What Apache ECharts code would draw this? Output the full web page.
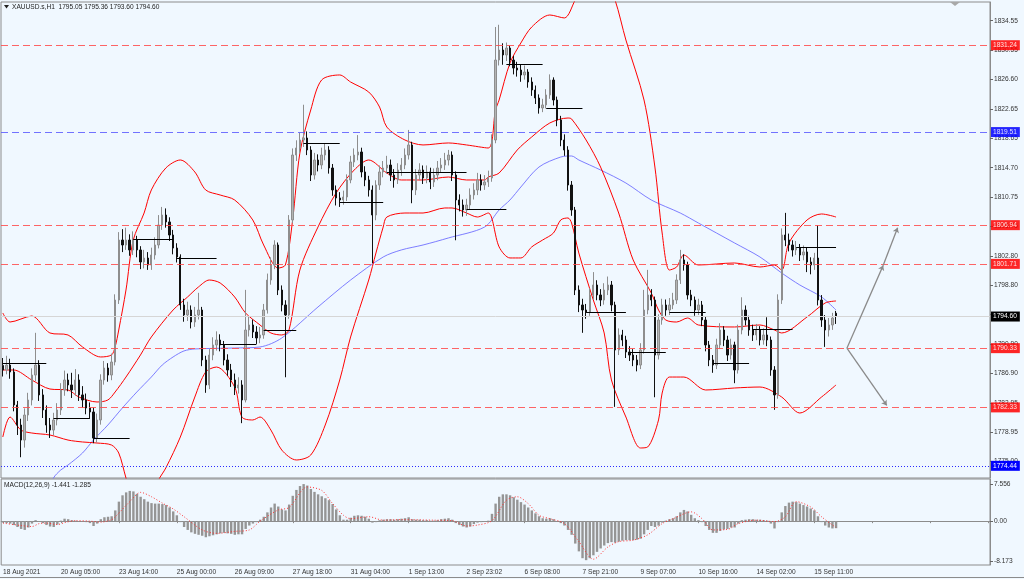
<!DOCTYPE html>
<html><head><meta charset="utf-8">
<script src="https://cdn.jsdelivr.net/npm/echarts@6/dist/echarts.min.js"></script>
<style>html,body{margin:0;padding:0;background:#f0f8ff;}#c{width:1024px;height:579px;}</style>
</head><body><div id="c"></div>
<script>
// ---------------- DATA ----------------
const TITLE = 'XAUUSD.s,H1  1795.05 1795.36 1793.60 1794.60';
const MACD_TITLE = 'MACD(12,26,9) -1.441 -1.285';
const TIME_LABELS = ['18 Aug 2021','20 Aug 05:00','23 Aug 14:00','25 Aug 00:00','26 Aug 09:00','27 Aug 18:00','31 Aug 04:00','1 Sep 13:00','2 Sep 23:02','6 Sep 08:00','7 Sep 21:00','9 Sep 07:00','10 Sep 16:00','14 Sep 02:00','15 Sep 11:00'];
const LABEL_STEP = 16;
const SLOT_COUNT = 273;
const PRICE_TICK_LABELS = ['1775.00','1778.95','1782.95','1786.90','1790.90','1794.85','1798.80','1802.80','1806.75','1810.75','1814.70','1818.65','1822.65','1826.60','1830.55','1834.55'];
const MACD_TICK_VALUES = [7.556, 0, -8.173];
const MACD_TICK_LABELS = ['7.556','0.00','-8.173'];

const OPENS = [1788.00,1787.38,1788.05,1787.11,1782.65,1779.95,1777.92,1781.30,1783.33,1786.70,
1788.05,1784.01,1781.98,1779.95,1779.27,1780.63,1781.98,1784.68,1786.03,1785.36,
1784.68,1786.03,1784.01,1783.33,1782.25,1781.71,1778.19,1780.63,1786.03,1787.65,
1786.70,1788.46,1796.83,1804.93,1804.26,1804.93,1803.59,1804.93,1803.59,1801.96,
1802.50,1801.56,1802.91,1804.26,1806.96,1808.31,1807.37,1805.61,1803.85,1802.64,
1796.16,1794.81,1795.48,1793.86,1794.81,1795.48,1788.73,1785.36,1789.40,1790.76,
1791.43,1790.76,1788.73,1787.38,1786.03,1784.95,1785.36,1783.33,1792.78,1793.46,
1792.51,1791.70,1792.11,1795.48,1799.53,1801.56,1804.26,1798.18,1796.16,1794.81,
1807.64,1816.41,1817.36,1818.44,1818.71,1817.09,1813.71,1815.74,1815.06,1816.41,
1817.09,1814.66,1811.69,1810.61,1810.34,1810.74,1813.04,1815.47,1816.41,1816.82,
1814.12,1813.04,1811.69,1808.31,1812.36,1814.12,1814.66,1815.06,1813.71,1813.04,
1814.39,1815.06,1816.41,1817.77,1811.69,1813.71,1814.39,1813.31,1814.12,1812.77,
1813.71,1814.66,1815.06,1815.74,1816.41,1813.71,1810.34,1809.66,1808.99,1809.66,
1811.01,1811.69,1813.04,1812.36,1812.77,1813.31,1818.44,1829.24,1830.59,1829.92,
1830.86,1829.24,1828.16,1827.89,1827.22,1827.62,1826.27,1825.19,1824.11,1822.76,
1823.17,1824.52,1826.54,1823.84,1821.14,1818.44,1817.09,1812.36,1808.99,1798.18,
1796.16,1795.48,1795.21,1797.51,1798.86,1797.51,1796.83,1798.18,1798.86,1796.16,
1790.08,1792.11,1791.43,1789.81,1789.40,1788.73,1788.05,1790.08,1795.48,1797.51,
1796.83,1789.40,1794.13,1796.16,1795.48,1796.16,1796.83,1799.53,1802.24,1801.56,
1797.51,1796.83,1795.48,1796.16,1794.13,1790.76,1788.73,1788.05,1790.76,1792.78,
1791.43,1789.40,1790.76,1787.38,1792.78,1795.48,1794.13,1792.78,1792.11,1792.78,
1791.43,1792.11,1791.43,1787.38,1784.01,1796.83,1805.61,1804.93,1804.26,1803.59,
1803.85,1802.91,1803.32,1801.96,1801.56,1802.50,1796.83,1794.13,1792.78,1793.46,
1795.05];
const CLOSES = [1787.38,1788.05,1787.11,1782.65,1779.95,1777.92,1781.30,1783.33,1786.70,1788.05,
1784.01,1781.98,1779.95,1779.27,1780.63,1781.98,1784.68,1786.03,1785.36,1784.68,
1786.03,1784.01,1783.33,1782.25,1781.71,1778.19,1780.63,1786.03,1787.65,1786.70,
1788.46,1796.83,1804.93,1804.26,1804.93,1803.59,1804.93,1803.59,1801.96,1802.50,
1801.56,1802.91,1804.26,1806.96,1808.31,1807.37,1805.61,1803.85,1802.64,1796.16,
1794.81,1795.48,1793.86,1794.81,1795.48,1788.73,1785.36,1789.40,1790.76,1791.43,
1790.76,1788.73,1787.38,1786.03,1784.95,1785.36,1783.33,1792.78,1793.46,1792.51,
1791.70,1792.11,1795.48,1799.53,1801.56,1804.26,1798.18,1796.16,1794.81,1807.64,
1816.41,1817.36,1818.44,1818.71,1817.09,1813.71,1815.74,1815.06,1816.41,1817.09,
1814.66,1811.69,1810.61,1810.34,1810.74,1813.04,1815.47,1816.41,1816.82,1814.12,
1813.04,1811.69,1808.31,1812.36,1814.12,1814.66,1815.06,1813.71,1813.04,1814.39,
1815.06,1816.41,1817.77,1811.69,1813.71,1814.39,1813.31,1814.12,1812.77,1813.71,
1814.66,1815.06,1815.74,1816.41,1813.71,1810.34,1809.66,1808.99,1809.66,1811.01,
1811.69,1813.04,1812.36,1812.77,1813.31,1818.44,1829.24,1830.59,1829.92,1830.86,
1829.24,1828.16,1827.89,1827.22,1827.62,1826.27,1825.19,1824.11,1822.76,1823.17,
1824.52,1826.54,1823.84,1821.14,1818.44,1817.09,1812.36,1808.99,1798.18,1796.16,
1795.48,1795.21,1797.51,1798.86,1797.51,1796.83,1798.18,1798.86,1796.16,1790.08,
1792.11,1791.43,1789.81,1789.40,1788.73,1788.05,1790.08,1795.48,1797.51,1796.83,
1789.40,1794.13,1796.16,1795.48,1796.16,1796.83,1799.53,1802.24,1801.56,1797.51,
1796.83,1795.48,1796.16,1794.13,1790.76,1788.73,1788.05,1790.76,1792.78,1791.43,
1789.40,1790.76,1787.38,1792.78,1795.48,1794.13,1792.78,1792.11,1792.78,1791.43,
1792.11,1791.43,1787.38,1784.01,1796.83,1805.61,1804.93,1804.26,1803.59,1803.85,
1802.91,1803.32,1801.96,1801.56,1802.50,1796.83,1794.13,1792.78,1793.46,1794.40,
1794.60];
const HIGHS = [1789.0,1789.3,1788.9,1787.6,1783.2,1780.8,1782.2,1784.3,1787.6,1792.4,
1788.7,1784.8,1782.6,1780.9,1781.6,1782.9,1785.6,1787.3,1786.9,1787.0,
1787.5,1786.8,1785.2,1784.2,1783.0,1782.3,1781.5,1786.8,1788.6,1788.3,
1789.6,1797.6,1806.0,1806.4,1806.6,1805.7,1806.1,1805.5,1804.1,1803.6,
1803.3,1803.9,1805.3,1808.3,1809.4,1809.2,1808.0,1806.3,1804.5,1803.0,
1797.0,1796.6,1796.1,1795.9,1797.8,1795.9,1789.3,1790.2,1791.8,1792.6,
1792.2,1791.3,1789.5,1788.2,1786.9,1786.4,1786.0,1798.2,1794.6,1794.2,
1793.3,1793.2,1796.3,1800.4,1802.6,1804.9,1804.6,1798.8,1796.8,1808.3,
1817.3,1818.4,1819.4,1823.2,1819.6,1817.6,1816.7,1816.5,1817.4,1818.0,
1817.6,1815.2,1812.3,1811.4,1811.6,1813.8,1816.3,1817.3,1819.1,1817.4,
1814.9,1813.6,1812.3,1813.0,1815.0,1815.6,1816.3,1815.8,1814.5,1815.3,
1816.0,1817.3,1819.8,1818.2,1814.5,1815.3,1815.0,1815.0,1814.7,1814.6,
1815.6,1816.0,1816.7,1817.1,1816.9,1814.2,1811.1,1810.4,1810.5,1811.9,
1812.6,1814.0,1813.8,1813.7,1814.3,1819.2,1833.7,1834.0,1831.5,1831.6,
1831.2,1829.8,1829.0,1828.6,1828.5,1828.0,1826.9,1825.8,1824.6,1824.0,
1825.3,1827.3,1826.9,1824.3,1821.7,1819.2,1817.6,1812.9,1809.4,1798.8,
1797.0,1796.3,1798.4,1800.6,1799.5,1798.3,1799.1,1800.0,1799.4,1796.6,
1793.0,1792.8,1792.0,1790.6,1790.2,1789.4,1791.0,1798.2,1800.9,1798.3,
1797.3,1794.9,1797.0,1796.9,1797.1,1797.8,1800.3,1803.6,1803.0,1802.0,
1798.2,1797.3,1797.0,1796.7,1794.6,1791.3,1789.4,1791.6,1793.7,1793.3,
1792.0,1791.6,1791.2,1793.5,1797.2,1796.1,1794.7,1793.5,1793.6,1793.3,
1793.0,1794.5,1791.9,1787.9,1797.6,1806.5,1808.6,1805.8,1804.9,1804.8,
1804.4,1804.2,1803.9,1802.6,1803.2,1806.9,1797.5,1794.8,1794.4,1795.1,
1795.36];
const LOWS = [1786.5,1786.8,1786.2,1781.8,1778.6,1775.6,1776.9,1780.5,1782.6,1785.9,
1783.2,1780.9,1778.9,1778.2,1778.6,1779.9,1781.3,1783.9,1784.5,1783.6,
1783.9,1783.2,1782.3,1781.4,1780.8,1777.5,1777.6,1780.0,1785.4,1785.8,
1786.0,1788.0,1796.3,1803.3,1803.6,1802.8,1802.9,1802.6,1801.0,1801.1,
1800.9,1800.9,1802.3,1803.8,1806.3,1806.6,1804.8,1803.0,1801.9,1795.5,
1793.9,1794.0,1793.0,1793.2,1794.2,1787.9,1784.3,1784.8,1788.7,1790.0,
1789.9,1788.0,1786.6,1785.1,1784.0,1784.2,1780.2,1783.0,1791.9,1791.7,
1790.9,1791.0,1791.6,1795.0,1798.9,1801.0,1797.5,1795.3,1786.4,1794.3,
1807.2,1815.6,1816.6,1817.5,1816.4,1812.9,1813.1,1814.2,1814.5,1815.7,
1813.9,1810.9,1809.6,1809.4,1809.7,1810.2,1812.6,1814.8,1815.7,1813.4,
1812.2,1810.8,1801.8,1807.6,1811.7,1813.4,1813.9,1812.9,1812.0,1812.5,
1813.6,1814.5,1815.8,1809.9,1811.0,1813.0,1812.5,1812.6,1811.8,1812.1,
1813.0,1814.0,1814.4,1815.0,1812.9,1804.9,1808.8,1808.1,1808.2,1809.0,
1810.4,1811.0,1811.6,1811.7,1812.1,1812.8,1818.0,1828.5,1828.6,1829.1,
1828.4,1827.3,1827.0,1826.3,1826.6,1825.5,1824.4,1823.3,1822.0,1822.2,
1822.7,1824.0,1823.1,1820.3,1817.6,1816.3,1811.6,1808.2,1797.5,1795.2,
1792.4,1794.3,1794.7,1796.9,1796.8,1796.0,1796.2,1797.5,1795.3,1782.4,
1789.4,1790.6,1789.0,1788.6,1787.9,1787.2,1787.5,1789.6,1794.9,1796.0,
1783.7,1788.8,1793.5,1794.7,1794.8,1795.6,1796.3,1799.0,1800.8,1796.9,
1796.0,1794.7,1794.8,1793.3,1789.9,1787.9,1787.0,1787.5,1790.2,1790.6,
1788.6,1788.8,1785.6,1786.9,1792.2,1793.4,1792.0,1791.3,1791.4,1790.7,
1790.8,1790.6,1786.6,1782.0,1783.5,1796.3,1804.1,1803.4,1802.7,1802.9,
1802.1,1802.2,1800.6,1800.3,1800.9,1796.1,1793.2,1790.5,1791.9,1792.8,
1793.60];

// Bollinger bands (20) and moving average, read as [bar index, price]
const BB_UPPER = [[0,1795.08],[2,1793.86],[8,1794.67],[13,1792.38],[18,1792.11],[22,1790.49],[27,1789.14],[30,1789.41],[31,1790.49],[32,1792.78],[34,1798.18],[36,1804.93],[39,1808.58],[41,1811.69],[45,1814.66],[49,1815.74],[53,1814.12],[56,1811.69],[60,1811.01],[64,1810.34],[69,1807.64],[72,1804.26],[76,1801.15],[78,1801.56],[80,1807.64],[82,1816.68],[85,1822.49],[88,1826.54],[93,1827.22],[96,1826.27],[101,1824.92],[104,1822.89],[106,1820.19],[111,1818.44],[116,1817.77],[123,1818.04],[128,1817.77],[134,1817.36],[136,1822.49],[137,1823.84],[140,1828.84],[143,1831.54],[146,1833.70],[151,1835.32],[155,1834.92],[158,1837.35],[161,1840.05],[163,1842.75],[166,1840.72],[169,1837.35],[172,1831.94],[177,1823.84],[180,1814.79],[182,1805.88],[184,1800.88],[186,1801.29],[188,1802.91],[192,1801.56],[202,1801.83],[209,1801.29],[213,1801.56],[215,1800.88],[217,1804.53],[222,1807.64],[226,1808.45],[230,1808.04]];
const BB_MIDDLE = [[0,1787.38],[3,1787.38],[8,1786.03],[13,1784.81],[18,1784.68],[21,1783.73],[26,1783.06],[29,1783.33],[31,1784.41],[34,1786.43],[38,1789.41],[41,1791.84],[47,1795.48],[51,1797.24],[54,1798.59],[57,1799.53],[60,1799.13],[64,1797.24],[67,1795.08],[71,1793.46],[74,1792.38],[77,1792.11],[79,1792.78],[82,1800.88],[87,1806.69],[92,1811.28],[97,1814.39],[101,1815.74],[106,1813.98],[110,1813.04],[116,1813.04],[123,1813.44],[128,1813.04],[133,1813.04],[134,1813.44],[137,1813.98],[142,1817.09],[146,1818.85],[151,1820.74],[156,1821.41],[157,1821.28],[161,1818.44],[165,1814.79],[170,1808.58],[174,1802.24],[179,1797.78],[181,1795.48],[183,1794.13],[186,1793.86],[189,1794.40],[192,1793.46],[202,1793.19],[209,1793.46],[213,1792.78],[215,1792.38],[222,1794.54],[227,1796.43],[230,1796.70]];
const BB_LOWER = [[0,1778.33],[2,1781.03],[5,1779.27],[8,1778.87],[13,1778.60],[18,1777.92],[22,1777.66],[26,1777.52],[30,1777.25],[32,1776.17],[34,1772.80],[36,1769.82],[39,1768.20],[41,1769.82],[43,1772.53],[45,1774.15],[49,1778.33],[53,1783.73],[56,1787.11],[59,1787.78],[64,1785.08],[66,1781.03],[69,1780.63],[71,1781.03],[74,1779.27],[77,1776.57],[81,1775.23],[85,1775.90],[89,1779.95],[93,1786.03],[96,1791.84],[101,1799.53],[103,1803.18],[105,1806.69],[106,1808.04],[111,1808.58],[116,1808.58],[122,1809.26],[124,1809.26],[128,1808.58],[131,1808.04],[134,1808.58],[137,1804.00],[140,1802.51],[143,1802.51],[146,1804.00],[149,1804.93],[152,1805.88],[154,1807.64],[156,1807.91],[157,1807.23],[159,1803.18],[163,1796.83],[166,1792.38],[168,1786.03],[172,1781.03],[176,1776.85],[178,1776.98],[181,1780.63],[182,1784.27],[184,1786.43],[188,1786.43],[194,1784.68],[202,1784.95],[209,1785.08],[215,1783.73],[220,1781.57],[226,1783.73],[230,1785.36]];
const MA_BLUE = [[10,1768.5],[14,1772.80],[16,1773.88],[18,1774.55],[22,1776.17],[25,1777.92],[29,1779.95],[33,1782.25],[37,1784.41],[41,1786.43],[44,1788.05],[47,1789.14],[50,1789.95],[53,1790.22],[64,1790.35],[71,1790.49],[77,1791.70],[87,1795.89],[96,1799.53],[105,1802.64],[110,1803.59],[116,1804.26],[123,1805.21],[133,1806.69],[137,1808.99],[140,1810.34],[143,1812.09],[148,1814.79],[154,1816.14],[157,1816.28],[159,1815.74],[165,1814.39],[172,1812.63],[179,1810.34],[187,1808.58],[192,1807.23],[202,1804.53],[209,1802.64],[215,1800.48],[220,1798.86],[226,1797.24],[230,1795.48]];

// daily open segments: start bar, end bar, price
const SEG_START = [0,14,25,36,48,60,72,83,93,106,128,139,150,161,173,184,196,207,219];
const SEG_END   = [12,24,35,47,59,70,81,93,105,128,139,149,160,172,183,194,206,218,230];
const SEG_LEVEL = [1788.32,1780.90,1778.20,1805.07,1802.51,1790.89,1792.78,1818.03,1810.07,1814.12,1809.12,1828.70,1822.76,1795.21,1789.81,1795.21,1788.32,1792.92,1803.99];

// horizontal levels
const RED_LEVELS = [1831.24, 1806.94, 1801.71, 1790.33, 1782.33];
const BLUE_LEVELS = [1819.51];
const LOW_LEVEL = 1774.44;
const BID = 1794.60;

// projection arrows: [bar, price] pairs
const ARROWS = [
  [[233,1790.33],[243,1801.5]],
  [[243,1801.5],[247,1806.6]],
  [[233,1790.33],[244,1782.6]]
];

const MACD_HIST = [-0.3,-0.4,-0.5,-0.8,-1.2,-1.6,-1.8,-1.3,-0.5,0.2,
-0.1,-0.4,-0.8,-1.1,-1.2,-0.7,0.1,0.5,0.4,0.2,
0.1,0.0,-0.1,-0.2,-0.4,-1.0,-0.5,0.4,0.8,0.9,
1.0,2.2,4.0,5.3,5.9,6.2,6.1,5.6,5.0,4.5,
4.0,3.7,3.6,3.6,3.5,3.3,2.8,2.0,1.2,-0.2,
-1.2,-1.8,-2.3,-2.6,-2.8,-3.0,-3.3,-3.1,-2.9,-2.7,
-2.5,-2.4,-2.5,-2.6,-2.8,-2.7,-2.7,-1.6,-0.9,-0.5,
-0.2,0.3,0.9,1.8,2.8,3.6,3.0,2.4,2.2,3.4,
5.2,6.4,7.2,7.6,7.3,6.6,6.0,5.5,5.1,4.7,
4.3,3.5,2.4,1.2,0.3,0.3,0.7,1.1,1.2,1.1,
0.9,0.5,-0.3,-0.2,0.2,0.3,0.4,0.4,0.3,0.4,
0.5,0.6,0.8,0.4,0.3,0.3,0.2,0.2,0.1,0.1,
0.2,0.4,0.5,0.6,0.3,-0.4,-0.8,-1.1,-1.3,-1.1,
-0.6,-0.3,-0.2,-0.1,0.1,1.5,3.6,5.0,5.5,5.5,
5.3,4.9,4.4,3.9,3.4,2.8,2.2,1.6,1.0,0.6,
0.5,0.6,0.4,0.0,-0.4,-0.9,-1.8,-2.8,-4.6,-6.2,
-7.6,-8.0,-7.6,-7.0,-6.3,-5.6,-5.0,-4.5,-4.3,-4.4,
-4.2,-4.0,-3.9,-3.9,-3.9,-3.8,-3.6,-2.7,-1.8,-1.0,
-1.2,-0.9,-0.3,0.1,0.4,0.6,1.0,1.8,2.3,2.0,
1.3,0.6,0.2,-0.2,-1.0,-1.8,-2.4,-2.4,-2.0,-1.7,
-1.6,-1.3,-1.3,-0.5,0.2,0.3,0.4,0.4,0.3,0.3,
0.2,0.1,-0.5,-1.5,-0.2,1.8,3.1,3.8,4.0,3.9,
3.6,3.3,3.0,2.6,2.2,1.0,-0.2,-0.9,-1.3,-1.5,
-1.441];
const MACD_SIGNAL = [[0,-0.4],[5,-0.9],[8,-1.1],[10,-0.5],[12,-0.4],[15,-0.7],[17,-0.3],[20,0.1],[24,0.0],[27,-0.2],[30,0.3],[31,0.9],[35,4.0],[38,5.9],[41,5.0],[44,3.7],[47,2.5],[50,0.9],[55,-1.8],[59,-2.5],[64,-2.1],[68,-1.8],[71,0.0],[76,2.3],[79,2.8],[84,7.0],[88,6.3],[91,3.6],[94,1.2],[96,0.5],[101,0.9],[105,0.2],[110,0.3],[119,0.2],[124,0.1],[128,-1.0],[131,-0.8],[135,0.1],[139,4.3],[142,5.0],[145,3.6],[148,1.2],[151,0.5],[155,-0.5],[159,-4.2],[163,-7.8],[167,-5.3],[170,-4.2],[174,-3.9],[178,-2.8],[182,-0.5],[185,0.5],[190,1.9],[193,0.5],[196,-1.8],[200,-1.7],[203,-0.5],[208,0.2],[213,-0.1],[216,0.9],[219,4.0],[223,2.9],[226,0.9],[229,-0.8],[230,-1.285]];

// ---------------- CHART ----------------
const FONT = 'Liberation Sans, Arial, sans-serif';
const FS = 6.6;
const PRICE_TICK_VALUES = PRICE_TICK_LABELS.map(Number);
const cats = Array.from({length: SLOT_COUNT}, (_, i) => String(i));
const candles = CLOSES.map((c, i) => [OPENS[i], c, LOWS[i], HIGHS[i]]);

const tag = (bg) => ({show: true, position: 'end', distance: 1, formatter: p => Number(p.value).toFixed(2),
  color: '#fff', backgroundColor: bg, fontSize: FS, fontFamily: FONT, padding: [2, 3, 1, 2]});
const levelLines = [];
RED_LEVELS.forEach(v => levelLines.push({yAxis: v, lineStyle: {color: '#ff4a4a', type: [7, 4], width: 1, opacity: 0.85}, label: tag('#ff0000')}));
BLUE_LEVELS.forEach(v => levelLines.push({yAxis: v, lineStyle: {color: '#5a5aff', type: [7, 4], width: 1, opacity: 0.85}, label: tag('#0000ff')}));
levelLines.push({yAxis: LOW_LEVEL, lineStyle: {color: '#2a2aff', type: [1, 2], width: 1}, label: tag('#0000ff')});
levelLines.push({yAxis: BID, lineStyle: {color: '#d6d6d6', type: 'solid', width: 1}, label: tag('#000000')});
SEG_START.forEach((s, k) => levelLines.push([
  {coord: [s, SEG_LEVEL[k]], lineStyle: {color: '#000', type: 'solid', width: 1, opacity: 1}, label: {show: false}},
  {coord: [SEG_END[k], SEG_LEVEL[k]]}
]));

const chart = echarts.init(document.getElementById('c'), null, {renderer: 'canvas'});
chart.setOption({
  animation: false,
  backgroundColor: '#f0f8ff',
  textStyle: {fontFamily: FONT},
  title: [
    {text: TITLE, left: 12, top: 3.5, padding: 0, textStyle: {fontSize: FS, fontWeight: 'normal', color: '#222', fontFamily: FONT}},
    {text: MACD_TITLE, left: 4, top: 482, padding: 0, textStyle: {fontSize: FS, fontWeight: 'normal', color: '#222', fontFamily: FONT}}
  ],
  grid: [
    {left: 1, right: 34, top: 2, height: 476, show: true, borderColor: '#8c8c8c', borderWidth: 1, backgroundColor: 'transparent'},
    {left: 1, right: 34, top: 479, height: 86, show: true, borderColor: '#8c8c8c', borderWidth: 1, backgroundColor: 'transparent'}
  ],
  xAxis: [
    {type: 'category', gridIndex: 0, data: cats, boundaryGap: true, axisLine: {show: false}, axisTick: {show: false}, axisLabel: {show: false}, splitLine: {show: false}},
    {type: 'category', gridIndex: 1, data: cats, boundaryGap: true,
      axisLine: {show: true, lineStyle: {color: '#8c8c8c'}},
      axisTick: {show: true, interval: LABEL_STEP - 1, alignWithLabel: true, length: 2, lineStyle: {color: '#8c8c8c'}},
      axisLabel: {interval: LABEL_STEP - 1, formatter: (v, i) => TIME_LABELS[i / LABEL_STEP] || '', align: 'left', fontSize: FS, color: '#333', margin: 4, fontFamily: FONT},
      splitLine: {show: false}}
  ],
  yAxis: [
    {type: 'value', gridIndex: 0, position: 'right', min: 1772.795, max: 1837.075,
      axisLine: {show: true, lineStyle: {color: '#8c8c8c'}},
      axisTick: {show: true, customValues: PRICE_TICK_VALUES, length: 3, lineStyle: {color: '#666'}},
      axisLabel: {customValues: PRICE_TICK_VALUES, formatter: v => v.toFixed(2), fontSize: FS, color: '#333', margin: 4, fontFamily: FONT},
      splitLine: {show: false}},
    {type: 'value', gridIndex: 1, position: 'right', min: -8.993, max: 8.643,
      axisLine: {show: true, lineStyle: {color: '#8c8c8c'}},
      axisTick: {show: true, customValues: MACD_TICK_VALUES, length: 3, lineStyle: {color: '#666'}},
      axisLabel: {customValues: MACD_TICK_VALUES, formatter: v => MACD_TICK_LABELS[MACD_TICK_VALUES.indexOf(v)], fontSize: FS, color: '#333', margin: 4, fontFamily: FONT},
      splitLine: {show: false}}
  ],
  series: [
    {type: 'line', name: 'MA', xAxisIndex: 0, yAxisIndex: 0, data: MA_BLUE, smooth: 0.3, showSymbol: false, clip: true,
      lineStyle: {color: '#6f6fff', width: 0.9}, z: 3},
    {type: 'line', name: 'BB upper', xAxisIndex: 0, yAxisIndex: 0, data: BB_UPPER, smooth: 0.3, showSymbol: false, clip: true,
      lineStyle: {color: '#ff0000', width: 1}, z: 3},
    {type: 'line', name: 'BB middle', xAxisIndex: 0, yAxisIndex: 0, data: BB_MIDDLE, smooth: 0.3, showSymbol: false, clip: true,
      lineStyle: {color: '#ff0000', width: 1}, z: 3},
    {type: 'line', name: 'BB lower', xAxisIndex: 0, yAxisIndex: 0, data: BB_LOWER, smooth: 0.3, showSymbol: false, clip: true,
      lineStyle: {color: '#ff0000', width: 1}, z: 3},
    {type: 'candlestick', name: 'XAUUSD', xAxisIndex: 0, yAxisIndex: 0, data: candles, barWidth: 1.8,
      itemStyle: {color: '#b4b4b4', color0: '#111', borderColor: '#8e8e8e', borderColor0: '#111', borderWidth: 1},
      markLine: {silent: true, symbol: ['none', 'none'], animation: false, data: levelLines},
      z: 4},
    {type: 'lines', coordinateSystem: 'cartesian2d', xAxisIndex: 0, yAxisIndex: 0,
      data: ARROWS.map(c => ({coords: c})), symbol: ['none', 'arrow'], symbolSize: 5,
      lineStyle: {color: '#8a8a8a', width: 1.3, opacity: 1}, z: 5},
    {type: 'bar', name: 'MACD', xAxisIndex: 1, yAxisIndex: 1, data: MACD_HIST, barWidth: 2.4,
      itemStyle: {color: '#959595'}},
    {type: 'line', name: 'Signal', xAxisIndex: 1, yAxisIndex: 1, data: MACD_SIGNAL, smooth: 0.3, showSymbol: false,
      lineStyle: {color: '#ff3030', width: 1, type: [1, 2]}, z: 4}
  ],
  graphic: [
    {type: 'polygon', shape: {points: [[4, 5], [9, 5], [6.5, 8.5]]}, style: {fill: '#222'}},
    {type: 'polygon', shape: {points: [[950, 2], [960, 2], [955, 6]]}, style: {fill: '#a8a8a8'}},
    {type: 'line', shape: {x1: 0, y1: 577.5, x2: 1024, y2: 577.5}, style: {stroke: '#8c8c8c', lineWidth: 1}}
  ]
});
</script></body></html>
